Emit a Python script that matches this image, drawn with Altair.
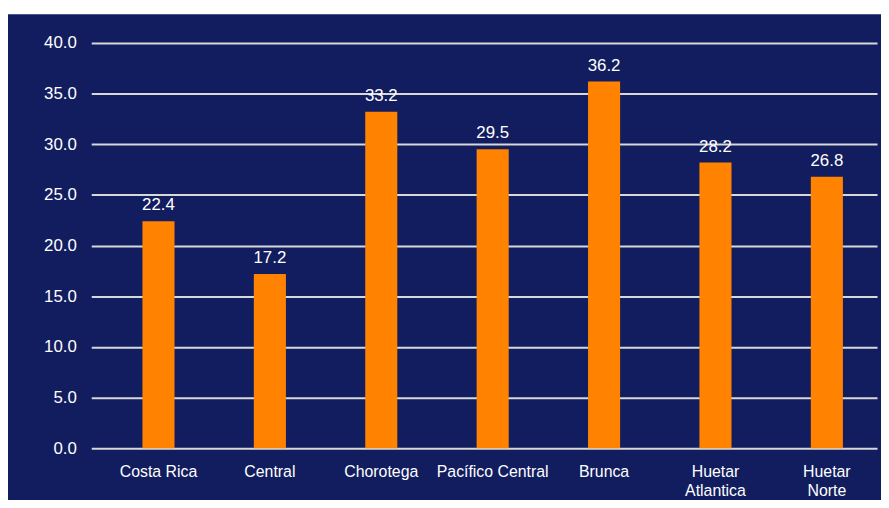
import altair as alt
import pandas as pd

regions = ["Costa Rica", "Central", "Chorotega", "Pacífico Central", "Brunca",
           "Huetar Atlantica", "Huetar Norte"]
values = [22.4, 17.2, 33.2, 29.5, 36.2, 28.2, 26.8]
y_ticks = [0, 5, 10, 15, 20, 25, 30, 35, 40]

NAVY = "#111d5e"
ORANGE = "#ff8300"
FONT = "Liberation Sans"

df = pd.DataFrame({"region": regions, "value": values})
df["label"] = df["value"].map(lambda v: f"{v:.1f}")

W, H = 793, 409

top_strip = alt.Chart(pd.DataFrame({"a": [0]})).mark_rect(color="white").encode(
    x=alt.value(-90), x2=alt.value(W + 10), y=alt.value(-45), y2=alt.value(-29)
)

xenc = alt.X(
    "region:N", sort=regions, title=None,
    scale=alt.Scale(paddingInner=0.712, paddingOuter=0.383, align=0.6),
    axis=alt.Axis(labelAngle=0, labelColor="white", labelFont=FONT, labelFontSize=16,
                  labelPadding=16, ticks=False, domain=False,
                  labelExpr="datum.value == 'Huetar Atlantica' ? ['Huetar', 'Atlantica'] : datum.value == 'Huetar Norte' ? ['Huetar', 'Norte'] : datum.value",
                  labelLineHeight=19, labelBaseline="top"),
)
yenc = alt.Y(
    "value:Q", title=None,
    scale=alt.Scale(domain=[0, 40], nice=False),
    axis=alt.Axis(values=y_ticks, format=".1f",
                  labelColor="white", labelFont=FONT, labelFontSize=17,
                  labelPadding=15, ticks=False, domain=False,
                  grid=True, gridColor="#d8d8d8", gridWidth=2),
)

bars = alt.Chart(df).mark_bar(color=ORANGE).encode(x=xenc, y=yenc)
text = alt.Chart(df).mark_text(color="white", font=FONT, fontSize=17, dy=-11,
                               baseline="alphabetic").encode(
    x=alt.X("region:N", sort=regions), y="value:Q", text="label:N")

chart = alt.layer(top_strip, bars, text).properties(
    width=W, height=H,
    padding={"left": 84, "top": 33, "right": 4, "bottom": 50},
    autosize=alt.AutoSizeParams(type="none"),
    background=NAVY,
).configure_view(stroke=None)

chart.save("out.html", embed_options={"renderer": "svg", "actions": False})
